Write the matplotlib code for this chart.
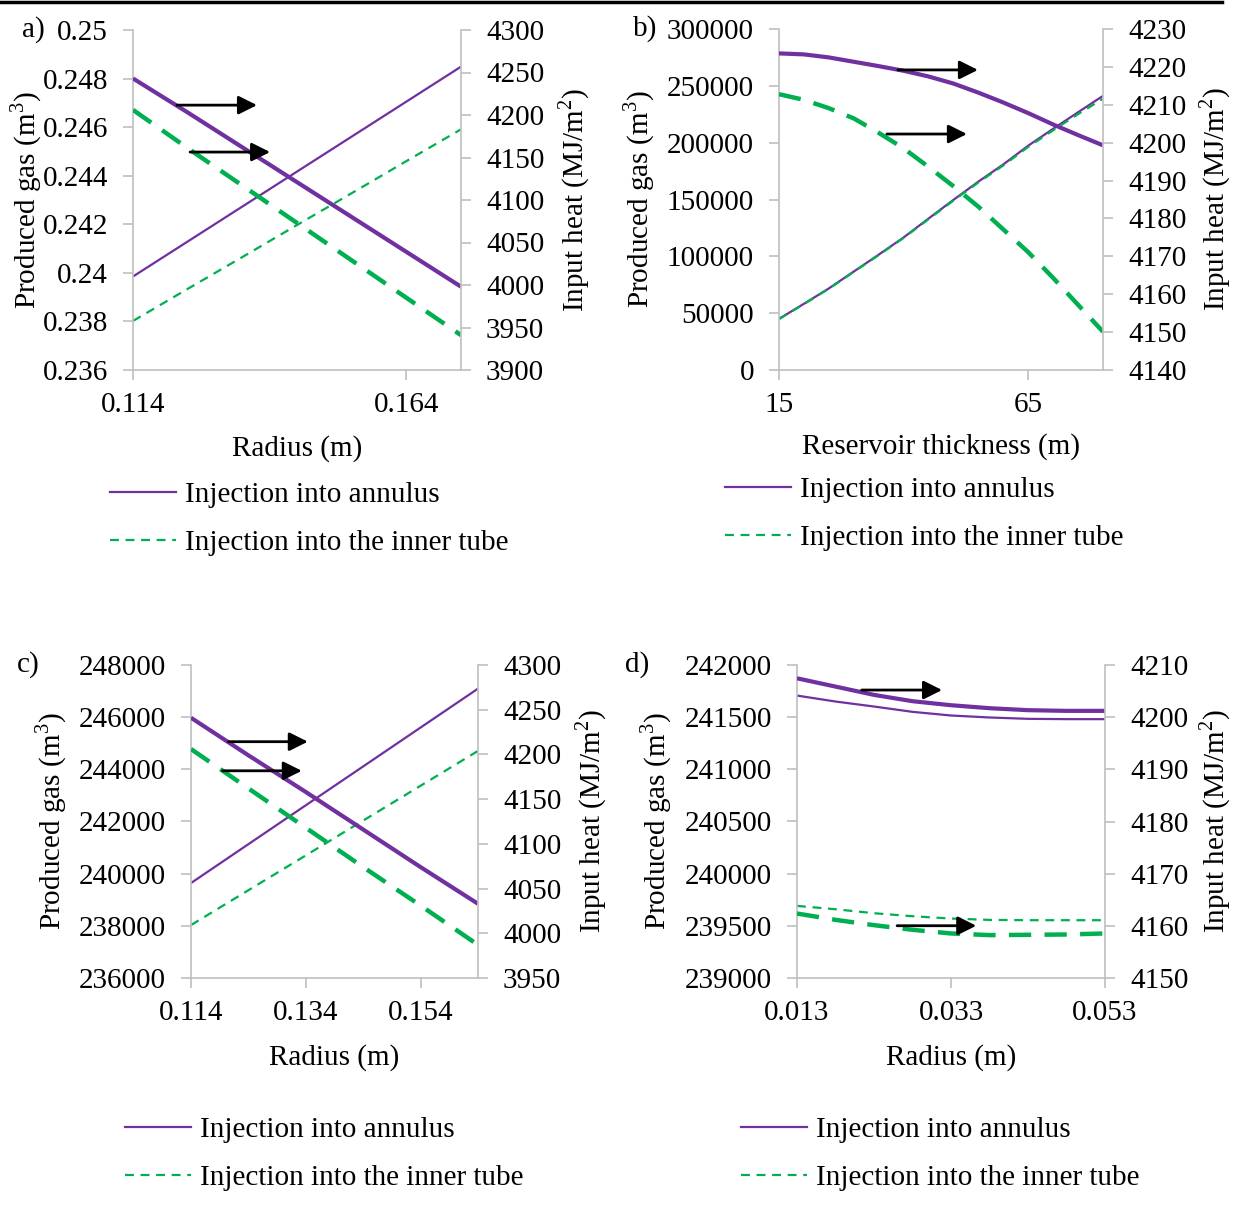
import matplotlib
matplotlib.use("Agg")
import matplotlib.pyplot as plt
from matplotlib.lines import Line2D
from matplotlib.ticker import FixedLocator, FuncFormatter

plt.rcParams['font.family'] = ['Liberation Serif', 'DejaVu Serif']
plt.rcParams['mathtext.fontset'] = 'custom'
plt.rcParams['mathtext.rm'] = 'Liberation Serif'
FS = 21
plt.rcParams['font.size'] = FS

PURPLE = '#7030A0'
GREEN = '#00B050'
GRID_GREY = '#BFBFBF'

# ---- a) wellbore radius ----
a_x = [0.114, 0.124, 0.134, 0.144, 0.154, 0.164, 0.174]
a_gas_annulus = [0.23985, 0.24129, 0.24273, 0.24417, 0.24561, 0.24705, 0.24849]
a_gas_inner = [0.23802, 0.23934, 0.24065, 0.24197, 0.24328, 0.24460, 0.24591]
a_heat_annulus = [4243, 4203, 4162, 4121, 4080, 4039, 3998]
a_heat_inner = [4206, 4161, 4117, 4073, 4029, 3985, 3941]

# ---- b) reservoir thickness ----
b_x = [15, 20, 25, 30, 35, 40, 45, 50, 55, 60, 65, 70, 75, 80]
b_gas_annulus = [45000, 58240, 71760, 86620, 101470, 116620, 133240,
                 149710, 165740, 180880, 197350, 212200, 226760, 241180]
b_gas_inner = [44800, 58000, 71500, 86300, 101100, 116200, 132700,
               149100, 165000, 180000, 196300, 210900, 225100, 238600]
b_heat_annulus = [4223.56, 4223.3, 4222.5, 4221.35, 4220.2, 4218.97, 4217.47,
                  4215.6, 4213.2, 4210.6, 4207.8, 4204.8, 4202.0, 4199.3]
b_heat_inner = [4212.8, 4211.3, 4209.1, 4206.4, 4202.6, 4198.5, 4193.6,
                4188.5, 4183.1, 4177.1, 4171.1, 4164.3, 4157.2, 4150.1]

# ---- c) radius ----
c_x = [0.114, 0.124, 0.134, 0.144, 0.154, 0.164]
c_gas_annulus = [239640, 241131, 242622, 244112, 245603, 247094]
c_gas_inner = [238030, 239365, 240700, 242036, 243371, 244706]
c_heat_annulus = [4241, 4199, 4158, 4116, 4074, 4033]
c_heat_inner = [4206, 4162, 4118, 4074, 4031, 3987]

# ---- d) radius ----
d_x = [0.013, 0.018, 0.023, 0.028, 0.033, 0.038, 0.043, 0.048, 0.053]
d_gas_annulus = [241707, 241650, 241602, 241551, 241516, 241497, 241484, 241481, 241481]
d_gas_inner = [239691, 239659, 239621, 239592, 239570, 239557, 239554, 239554, 239554]
d_heat_annulus = [4207.45, 4205.86, 4204.27, 4203.06, 4202.29, 4201.72, 4201.34, 4201.21, 4201.21]
d_heat_inner = [4162.36, 4161.15, 4160.13, 4159.24, 4158.54, 4158.22, 4158.28, 4158.34, 4158.54]

legend_labels = ['Injection into annulus', 'Injection into the inner tube']

W, H = 1233, 1205
fig = plt.figure(figsize=(W / 100, H / 100), dpi=100)


def px_rect(x0, y0, x1, y1):
    return [x0 / W, 1 - y1 / H, (x1 - x0) / W, (y1 - y0) / H]


def fmt_general(v, pos):
    return ('%.6f' % v).rstrip('0').rstrip('.')


panels = [
    dict(rect=px_rect(133, 30, 461, 370), x=a_x, ga=a_gas_annulus, gi=a_gas_inner,
         ha=a_heat_annulus, hi=a_heat_inner, xlim=(0.114, 0.174), xticks=[0.114, 0.164],
         ylim=(0.236, 0.25), yticks=[0.236 + 0.002 * i for i in range(8)],
         y2lim=(3900, 4300), y2ticks=list(range(3900, 4301, 50)),
         xlabel='Radius (m)', tag='a)', tagpos=(22, 30),
         ylab_x=-0.270, y2lab_x=1.290, xlab_y=-0.192,
         arrows=[(0.134, 0.378, 0.779), (0.174, 0.418, 0.641)],
         legend=(110, 482)),
    dict(rect=px_rect(779, 29, 1103, 370), x=b_x, ga=b_gas_annulus, gi=b_gas_inner,
         ha=b_heat_annulus, hi=b_heat_inner, xlim=(15, 80), xticks=[15, 65],
         ylim=(0, 300000), yticks=list(range(0, 300001, 50000)),
         y2lim=(4140, 4230), y2ticks=list(range(4140, 4231, 10)),
         xlabel='Reservoir thickness (m)', tag='b)', tagpos=(633, 29),
         ylab_x=-0.377, y2lab_x=1.290, xlab_y=-0.186,
         arrows=[(0.367, 0.614, 0.880), (0.333, 0.580, 0.692)],
         legend=(725, 477)),
    dict(rect=px_rect(191, 665, 478, 978), x=c_x, ga=c_gas_annulus, gi=c_gas_inner,
         ha=c_heat_annulus, hi=c_heat_inner, xlim=(0.114, 0.164), xticks=[0.114, 0.134, 0.154],
         ylim=(236000, 248000), yticks=list(range(236000, 248001, 2000)),
         y2lim=(3950, 4300), y2ticks=list(range(3950, 4301, 50)),
         xlabel='Radius (m)', tag='c)', tagpos=(17, 665),
         ylab_x=-0.425, y2lab_x=1.334, xlab_y=-0.210,
         arrows=[(0.131, 0.407, 0.755), (0.110, 0.386, 0.662)],
         legend=(125, 1117)),
    dict(rect=px_rect(797, 665, 1105, 978), x=d_x, ga=d_gas_annulus, gi=d_gas_inner,
         ha=d_heat_annulus, hi=d_heat_inner, xlim=(0.013, 0.053), xticks=[0.013, 0.033, 0.053],
         ylim=(239000, 242000), yticks=list(range(239000, 242001, 500)),
         y2lim=(4150, 4210), y2ticks=list(range(4150, 4211, 10)),
         xlabel='Radius (m)', tag='d)', tagpos=(625, 665),
         ylab_x=-0.399, y2lab_x=1.300, xlab_y=-0.210,
         arrows=[(0.210, 0.471, 0.920), (0.325, 0.582, 0.167)],
         legend=(741, 1117)),
]

for p in panels:
    ax = fig.add_axes(p['rect'])
    ax2 = ax.twinx()
    ax.patch.set_visible(False)

    # produced gas on the left axis (thin lines)
    ax.plot(p['x'], p['ga'], color=PURPLE, lw=1.6, solid_capstyle='butt')
    ax.plot(p['x'], p['gi'], color=GREEN, lw=1.6, dashes=(4, 3))
    # input heat on the right axis (thick lines)
    ax2.plot(p['x'], p['ha'], color=PURPLE, lw=3.0, solid_capstyle='butt',
             solid_joinstyle='round')
    ax2.plot(p['x'], p['hi'], color=GREEN, lw=3.2, dashes=(5, 3))

    ax.set_xlim(*p['xlim'])
    ax.set_ylim(*p['ylim'])
    ax2.set_ylim(*p['y2lim'])
    ax.xaxis.set_major_locator(FixedLocator(p['xticks']))
    ax.yaxis.set_major_locator(FixedLocator(p['yticks']))
    ax2.yaxis.set_major_locator(FixedLocator(p['y2ticks']))
    ax.xaxis.set_major_formatter(FuncFormatter(fmt_general))
    ax.yaxis.set_major_formatter(FuncFormatter(fmt_general))
    ax2.yaxis.set_major_formatter(FuncFormatter(fmt_general))

    for s in ['top', 'right']:
        ax.spines[s].set_visible(False)
    for s in ['left', 'bottom']:
        ax.spines[s].set_color(GRID_GREY)
        ax.spines[s].set_linewidth(1.2)
    for s in ['top', 'left', 'bottom']:
        ax2.spines[s].set_visible(False)
    ax2.spines['right'].set_color(GRID_GREY)
    ax2.spines['right'].set_linewidth(1.2)

    ax.tick_params(axis='both', which='major', color=GRID_GREY, length=7, width=1.2,
                   labelsize=FS, direction='out')
    ax.tick_params(axis='y', pad=11)
    ax.tick_params(axis='x', pad=9)
    ax2.tick_params(axis='y', color=GRID_GREY, length=7, width=1.2, labelsize=FS,
                    direction='out', pad=11)

    ax.set_ylabel('Produced gas (m$^{3}$)', fontsize=FS)
    ax.yaxis.set_label_coords(p['ylab_x'], 0.5)
    ax2.set_ylabel('Input heat (MJ/m$^{2}$)', fontsize=FS, rotation=90)
    ax2.yaxis.set_label_coords(p['y2lab_x'], 0.5)
    ax.set_xlabel(p['xlabel'], fontsize=FS)
    ax.xaxis.set_label_coords(0.5, p['xlab_y'])

    for x0, x1, yy in p['arrows']:
        ax2.annotate('', xy=(x1, yy), xytext=(x0, yy), xycoords='axes fraction',
                     textcoords='axes fraction',
                     arrowprops=dict(arrowstyle='-|>', color='black', lw=2,
                                     mutation_scale=28, shrinkA=0, shrinkB=0))

    fig.text(p['tagpos'][0] / W, 1 - p['tagpos'][1] / H, p['tag'], fontsize=FS,
             ha='left', va='center')

    handles = [Line2D([], [], color=PURPLE, lw=1.6),
               Line2D([], [], color=GREEN, lw=1.6, dashes=(4, 3))]
    lx, ly = p['legend']
    fig.legend(handles, legend_labels, loc='upper left',
               bbox_to_anchor=(lx / W, 1 - ly / H), bbox_transform=fig.transFigure,
               frameon=False, fontsize=FS, handlelength=2.26, handletextpad=0.31,
               labelspacing=0.72, borderpad=0, borderaxespad=0)

# rule across the top edge
fig.add_artist(Line2D([0, 0.991], [0.9985, 0.9985], transform=fig.transFigure,
                      color='black', lw=2.5))

fig.savefig('out.png', dpi=100)
